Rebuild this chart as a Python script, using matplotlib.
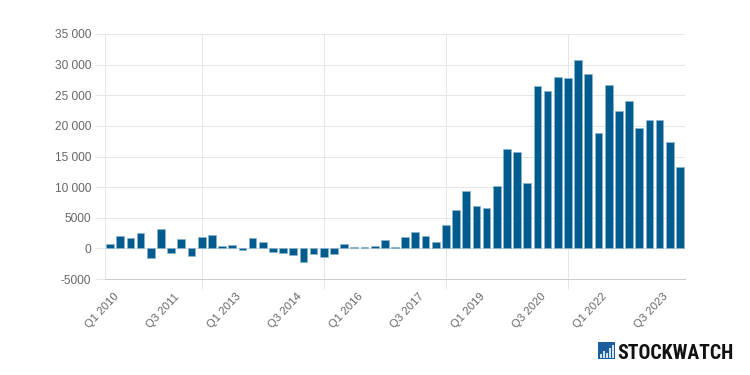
#!/usr/bin/env python3
import matplotlib
matplotlib.use("Agg")
import matplotlib.pyplot as plt
from matplotlib.patches import Rectangle
from matplotlib.transforms import ScaledTranslation

# quarterly values, Q1 2010 onwards
values = [700, 1950, 1630, 2550, -1500, 3100, -750, 1520, -1250, 1790,
          2170, 330, 540, -200, 1680, 980, -600, -760, -1090, -2170,
          -980, -1470, -870, 700, 200, 200, 380, 1300, 300, 1900,
          2600, 1950, 1080, 3740, 6230, 9320, 6990, 6560, 10250, 16270,
          15730, 10680, 26500, 25750, 28030, 27760, 30740, 28470, 18870, 26680,
          22450, 24080, 19580, 20990, 20880, 17300, 13340]
quarter_labels = ["Q1 2010", "Q3 2011", "Q1 2013", "Q3 2014", "Q1 2016",
                  "Q3 2017", "Q1 2019", "Q3 2020", "Q1 2022", "Q3 2023"]
y_ticks = [-5000, 0, 5000, 10000, 15000, 20000, 25000, 30000, 35000]
y_labels = ["-5000", "0", "5000", "10 000", "15 000", "20 000", "25 000", "30 000", "35 000"]

plt.rcParams['font.family'] = ['Liberation Sans', 'DejaVu Sans']
W, H = 750, 375
BAR = "#005b8f"
TXT = "#666666"
GRID = "#e6e6e6"
LW = 0.72  # one pixel at dpi 100

fig = plt.figure(figsize=(7.5, 3.75), dpi=100)
ax = fig.add_axes([105/W, 1-279/H, 580/W, 245/H])

ax.bar(range(len(values)), values, width=0.76, color=BAR, edgecolor="#8fb4cc", linewidth=0.5, zorder=3)

ax.set_xlim(-0.5, 56.5)
ax.set_ylim(-5000, 35000)

# gridlines sit every 12 bars, labels every 6
ax.set_xticks([9, 21, 33, 45])
ax.set_xticklabels([])
ax.set_xticks(range(0, len(values), 6), minor=True)
ax.set_xticklabels(quarter_labels, minor=True, rotation=47, ha="right", va="top",
                   rotation_mode="anchor", fontsize=8.2, color=TXT)
ax.tick_params(axis="x", which="major", length=7, width=LW, color=GRID)
ax.tick_params(axis="x", which="minor", length=0, pad=9)
shift = ScaledTranslation(3/100, 0, fig.dpi_scale_trans)
for t in ax.get_xticklabels(minor=True):
  t.set_transform(t.get_transform() + shift)

ax.set_yticks(y_ticks)
ax.set_yticklabels(y_labels, fontsize=8.6, color=TXT)
ax.tick_params(axis="y", length=7, width=LW, color=GRID, pad=3)

ax.grid(True, which="major", color=GRID, linewidth=LW, zorder=0)
ax.set_axisbelow(True)
for s in ("top", "right"):
  ax.spines[s].set_visible(False)
ax.spines["left"].set_color(GRID)
ax.spines["left"].set_linewidth(LW)
ax.spines["bottom"].set_color("#cccccc")
ax.spines["bottom"].set_linewidth(LW)

# logo, bottom right
fig.patches.append(Rectangle((598/W, 1-359/H), 17/W, 17/H, transform=fig.transFigure,
                             facecolor="#1c5d9c", edgecolor="none"))
for x, h in ((600, 4), (603, 7), (606, 5), (609, 10), (612, 13)):
  fig.patches.append(Rectangle((x/W, 1-358/H), 2/W, h/H, transform=fig.transFigure,
                               facecolor="#cfe3f2", edgecolor="none"))
logo = fig.text(617/W, 1-359/H, "STOCKWATCH", family=["Roboto Condensed", "Liberation Sans"],
                fontweight=900, fontsize=18, color="#111111", ha="left", va="baseline")
# keep the logo text inside 116 px whatever font was found
r = fig.canvas.get_renderer()
w = logo.get_window_extent(r).width
if w > 116:
  logo.set_fontsize(18*116/w)

fig.savefig("out.png", dpi=100)
